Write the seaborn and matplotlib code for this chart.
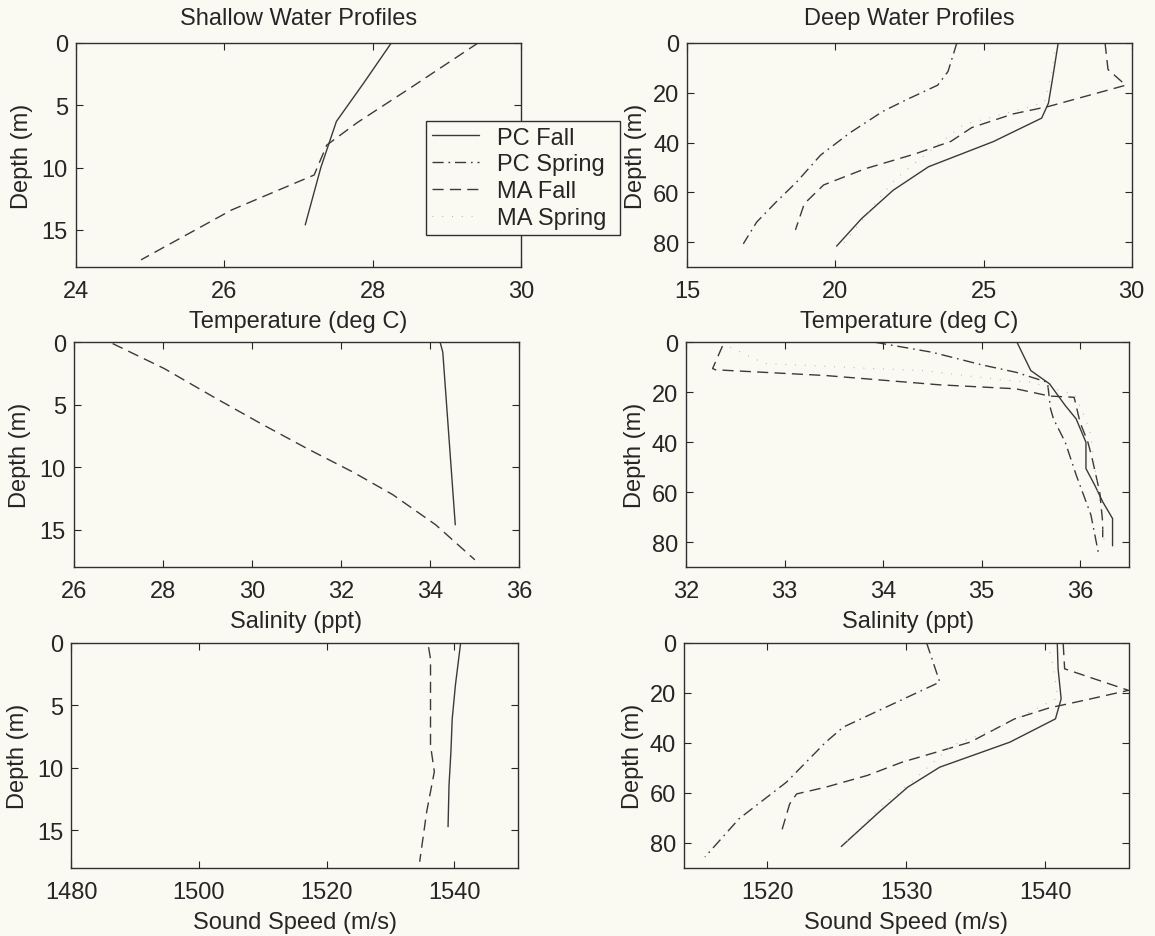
import matplotlib
matplotlib.use("Agg")
import matplotlib.pyplot as plt
import pandas as pd
import seaborn as sns

# ---------------- Shallow water profiles (depth in m) ----------------
sh_temp_pc_fall_x = [28.25, 27.88, 27.51, 27.30, 27.09]
sh_temp_pc_fall_d = [0.0, 3.2, 6.3, 10.0, 14.6]
sh_temp_ma_fall_x = [29.42, 28.99, 28.51, 27.79, 27.38, 27.21, 26.10, 24.88]
sh_temp_ma_fall_d = [0.0, 1.7, 3.6, 6.4, 8.2, 10.6, 13.4, 17.4]

sh_sal_pc_fall_x = [34.23, 34.29, 34.57]
sh_sal_pc_fall_d = [0.0, 0.8, 14.6]
sh_sal_ma_fall_x = [26.87, 28.03, 29.15, 30.20, 31.24, 32.28, 33.17, 34.13, 35.01]
sh_sal_ma_fall_d = [0.1, 2.1, 4.4, 6.5, 8.5, 10.4, 12.2, 14.6, 17.4]

sh_ss_pc_fall_x = [1541.0, 1540.2, 1539.7, 1539.5, 1539.2, 1539.05]
sh_ss_pc_fall_d = [0.1, 3.4, 6.1, 8.7, 11.4, 14.7]
sh_ss_ma_fall_x = [1536.0, 1536.3, 1536.3, 1536.9, 1535.7, 1534.6]
sh_ss_ma_fall_d = [0.35, 1.3, 8.2, 10.3, 13.5, 17.5]

# ---------------- Deep water profiles (depth in m) ----------------
dp_temp_pc_fall_x = [27.52, 27.35, 27.19, 26.96, 25.33, 23.14, 21.95, 20.88, 20.04]
dp_temp_pc_fall_d = [0.0, 12.8, 24.2, 30.2, 39.6, 49.7, 59.1, 70.5, 81.5]
dp_temp_pc_spring_x = [24.10, 23.80, 23.45, 22.40, 21.60, 20.50, 19.50, 18.70, 18.00, 17.34, 16.89]
dp_temp_pc_spring_d = [0.0, 11.5, 17.0, 22.8, 27.5, 36.0, 45.0, 55.7, 63.8, 71.9, 80.6]
dp_temp_ma_fall_x = [29.10, 29.20, 29.80, 27.20, 26.00, 24.60, 23.90, 22.70, 21.00, 19.60, 18.95, 18.65]
dp_temp_ma_fall_d = [0.0, 10.7, 17.0, 25.5, 28.5, 34.0, 39.5, 44.5, 50.5, 57.0, 64.5, 75.0]
dp_temp_ma_spring_x = [27.45, 27.30, 27.05, 24.30, 22.70, 22.00, 21.30, 20.40, 20.20]
dp_temp_ma_spring_d = [0.0, 12.0, 24.0, 33.0, 48.0, 55.0, 65.0, 78.6, 81.5]

dp_sal_pc_fall_x = [35.36, 35.50, 35.69, 35.85, 35.96, 36.06, 36.06, 36.15, 36.23, 36.33, 36.33]
dp_sal_pc_fall_d = [0.0, 11.3, 16.6, 25.3, 30.6, 40.0, 50.5, 57.2, 63.8, 70.5, 81.4]
dp_sal_pc_spring_x = [33.92, 34.50, 35.00, 35.35, 35.67, 35.70, 35.73, 35.85, 35.96, 36.11, 36.19]
dp_sal_pc_spring_d = [0.0, 4.0, 9.0, 12.0, 16.0, 26.5, 30.6, 40.0, 53.0, 69.0, 85.0]
dp_sal_ma_fall_x = [32.37, 32.27, 32.30, 33.42, 34.57, 35.35, 35.69, 35.94, 36.00, 36.08, 36.12, 36.20, 36.23, 36.23]
dp_sal_ma_fall_d = [1.5, 10.5, 11.0, 13.3, 17.0, 18.6, 21.5, 22.0, 32.0, 40.0, 46.0, 60.0, 72.0, 78.0]
dp_sal_ma_spring_x = [32.45, 32.80, 33.90, 34.40, 35.20, 35.50, 35.95, 36.10, 36.15, 36.20, 36.25]
dp_sal_ma_spring_d = [2.0, 8.5, 10.5, 11.3, 15.0, 16.0, 21.0, 35.0, 50.0, 65.0, 81.0]

dp_ss_pc_fall_x = [1540.87, 1540.93, 1541.15, 1540.74, 1537.46, 1532.41, 1530.10, 1528.05, 1525.32]
dp_ss_pc_fall_d = [0.0, 10.4, 22.4, 30.4, 39.7, 49.7, 57.7, 67.6, 81.4]
dp_ss_pc_spring_x = [1531.46, 1532.41, 1525.46, 1524.20, 1521.37, 1517.96, 1515.50]
dp_ss_pc_spring_d = [0.0, 15.7, 33.7, 39.7, 55.7, 70.3, 85.6]
dp_ss_ma_fall_x = [1541.3, 1541.4, 1546.0, 1542.8, 1540.3, 1537.8, 1534.6, 1532.6, 1529.7,
                   1527.2, 1524.2, 1522.1, 1521.6, 1521.0]
dp_ss_ma_fall_d = [0.5, 10.4, 19.0, 23.0, 26.0, 30.4, 39.7, 43.0, 47.7, 53.0, 57.7, 60.4, 64.4, 75.7]
dp_ss_ma_spring_x = [1540.2, 1540.6, 1540.9, 1537.0, 1533.3, 1530.5, 1528.3, 1525.6]
dp_ss_ma_spring_d = [0.0, 10.0, 22.0, 33.0, 41.0, 55.0, 65.0, 80.0]

series_names = ["PC Fall", "PC Spring", "MA Fall", "MA Spring"]

BG = "#fafaf3"
INK = "#262626"
FS = 17
line_styles = {
    "PC Fall": dict(linestyle="-", color="#3a3a3a", lw=1.0),
    "PC Spring": dict(linestyle=(0, (8, 3.5, 1.2, 3.5)), color="#3a3a3a", lw=1.0),
    "MA Fall": dict(linestyle=(0, (8, 4.5)), color="#3a3a3a", lw=1.0),
    "MA Spring": dict(linestyle=(0, (0.8, 8)), color="#b2b2aa", lw=0.8),
}

sns.set_style("ticks")
plt.rcParams["font.family"] = ["Liberation Sans", "DejaVu Sans"]
plt.rcParams.update({
    "font.size": FS,
    "text.color": INK,
    "axes.labelcolor": INK,
    "xtick.color": INK,
    "ytick.color": INK,
    "axes.edgecolor": "#303030",
    "axes.linewidth": 1.0,
})

fig = plt.figure(figsize=(11.55, 9.37), dpi=100, facecolor=BG)
W, H = 1155.0, 937.0


def add_axes(left, right, top, bottom):
    return fig.add_axes([left / W, 1 - bottom / H, (right - left) / W, (bottom - top) / H])


panels = [
    dict(box=(75.7, 521.4, 43.8, 268.3), xlim=(24, 30), xticks=[24, 26, 28, 30], ylim=(18, 0),
         yticks=[0, 5, 10, 15], xlabel="Temperature (deg C)", title="Shallow Water Profiles", ylp=6.0,
         data={"PC Fall": (sh_temp_pc_fall_x, sh_temp_pc_fall_d),
               "MA Fall": (sh_temp_ma_fall_x, sh_temp_ma_fall_d)}),
    dict(box=(687.3, 1131.7, 43.8, 268.3), xlim=(15, 30), xticks=[15, 20, 25, 30], ylim=(90, 0),
         yticks=[0, 20, 40, 60, 80], xlabel="Temperature (deg C)", title="Deep Water Profiles", ylp=4.2,
         data={"PC Fall": (dp_temp_pc_fall_x, dp_temp_pc_fall_d),
               "PC Spring": (dp_temp_pc_spring_x, dp_temp_pc_spring_d),
               "MA Fall": (dp_temp_ma_fall_x, dp_temp_ma_fall_d),
               "MA Spring": (dp_temp_ma_spring_x, dp_temp_ma_spring_d)}),
    dict(box=(73.9, 518.9, 343.3, 568.3), xlim=(26, 36), xticks=[26, 28, 30, 32, 34, 36], ylim=(18, 0),
         yticks=[0, 5, 10, 15], xlabel="Salinity (ppt)", title=None, ylp=6.0,
         data={"PC Fall": (sh_sal_pc_fall_x, sh_sal_pc_fall_d),
               "MA Fall": (sh_sal_ma_fall_x, sh_sal_ma_fall_d)}),
    dict(box=(686.0, 1129.3, 343.3, 568.3), xlim=(32, 36.5), xticks=[32, 33, 34, 35, 36], ylim=(90, 0),
         yticks=[0, 20, 40, 60, 80], xlabel="Salinity (ppt)", title=None, ylp=4.2,
         data={"PC Fall": (dp_sal_pc_fall_x, dp_sal_pc_fall_d),
               "PC Spring": (dp_sal_pc_spring_x, dp_sal_pc_spring_d),
               "MA Fall": (dp_sal_ma_fall_x, dp_sal_ma_fall_d),
               "MA Spring": (dp_sal_ma_spring_x, dp_sal_ma_spring_d)}),
    dict(box=(71.4, 517.9, 643.8, 869.0), xlim=(1480, 1550), xticks=[1480, 1500, 1520, 1540], ylim=(18, 0),
         yticks=[0, 5, 10, 15], xlabel="Sound Speed (m/s)", title=None, ylp=6.0,
         data={"PC Fall": (sh_ss_pc_fall_x, sh_ss_pc_fall_d),
               "MA Fall": (sh_ss_ma_fall_x, sh_ss_ma_fall_d)}),
    dict(box=(684.1, 1128.5, 643.8, 869.0), xlim=(1514, 1546), xticks=[1520, 1530, 1540], ylim=(90, 0),
         yticks=[0, 20, 40, 60, 80], xlabel="Sound Speed (m/s)", title=None, ylp=4.2,
         data={"PC Fall": (dp_ss_pc_fall_x, dp_ss_pc_fall_d),
               "PC Spring": (dp_ss_pc_spring_x, dp_ss_pc_spring_d),
               "MA Fall": (dp_ss_ma_fall_x, dp_ss_ma_fall_d),
               "MA Spring": (dp_ss_ma_spring_x, dp_ss_ma_spring_d)}),
]

axes = []
for p in panels:
    ax = add_axes(*p["box"])
    ax.set_facecolor(BG)
    for name in series_names:
        if name not in p["data"]:
            continue
        xs, ds = p["data"][name]
        df = pd.DataFrame({"value": xs, "depth": ds})
        sns.lineplot(data=df, x="value", y="depth", sort=False, estimator=None,
                     ax=ax, label=name, legend=False, **line_styles[name])
    ax.set_xlim(*p["xlim"])
    ax.set_ylim(*p["ylim"])
    ax.set_xticks(p["xticks"])
    ax.set_yticks(p["yticks"])
    ax.set_xlabel(p["xlabel"], fontsize=FS, labelpad=5.6)
    ax.set_ylabel("Depth (m)", fontsize=FS, labelpad=p["ylp"])
    if p["title"]:
        ax.set_title(p["title"], fontsize=FS, pad=13.2)
    ax.tick_params(direction="in", length=5, width=0.8, top=True, right=True, labelsize=FS)
    ax.tick_params(axis="x", pad=9.5)
    ax.tick_params(axis="y", pad=5.7)
    for s in ax.spines.values():
        s.set_visible(True)
    axes.append(ax)

# Legend for the four profile series, drawn over the top row
handles = []
for name in series_names:
    st = line_styles[name]
    handles.append(plt.Line2D([], [], linestyle=st["linestyle"], color=st["color"], lw=st["lw"]))
lx0, lx1, ly0, ly1 = 425.7, 620.0, 121.7, 238.3
leg = axes[1].legend(handles, series_names, loc="upper left", mode="expand",
                     bbox_to_anchor=(lx0 / W, 1 - ly1 / H, (lx1 - lx0) / W, (ly1 - ly0) / H),
                     bbox_transform=fig.transFigure,
                     fontsize=FS, frameon=True, fancybox=False, framealpha=1.0,
                     facecolor=BG, edgecolor="#303030", handlelength=2.0,
                     handletextpad=0.75, labelspacing=0.2, borderpad=0.25, borderaxespad=0)
leg.get_frame().set_linewidth(1.0)
leg.set_zorder(10)

fig.savefig("out.png", dpi=100, facecolor=BG)
